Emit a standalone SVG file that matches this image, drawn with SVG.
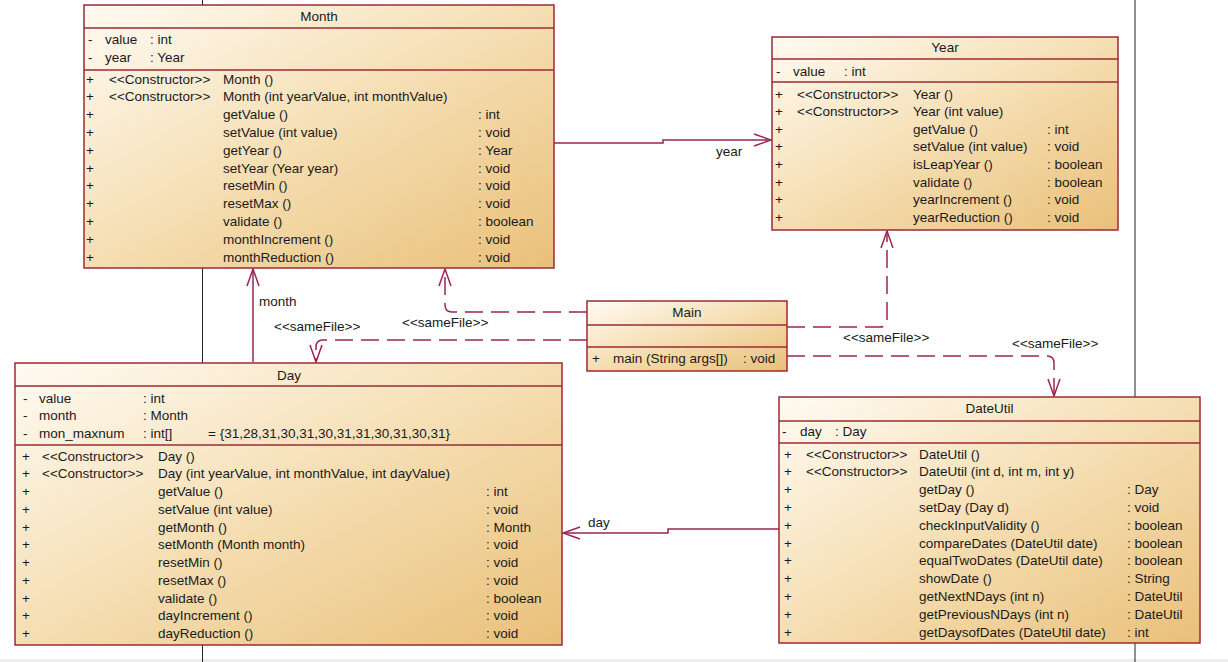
<svg xmlns="http://www.w3.org/2000/svg" width="1228" height="662" viewBox="0 0 1228 662">
<style>
.box{stroke:#9e2a36;stroke-width:1.5}
.div{stroke:#9e2a36;stroke-width:1.5}
text{font-family:"Liberation Sans",Arial,sans-serif;font-size:13.5px;fill:#1a1a1a}
.t{text-anchor:middle}
.c{fill:none;stroke:#9c2456;stroke-width:1.5}
.d{fill:none;stroke:#9c2456;stroke-width:1.5;stroke-dasharray:18 8}
.bg{stroke:#222;stroke-width:1}
</style>
<defs>
<linearGradient id="g" x1="0" y1="0" x2="1" y2="1">
<stop offset="0" stop-color="#fffbf3"/>
<stop offset="0.5" stop-color="#f5deb2"/>
<stop offset="1" stop-color="#e9c079"/>
</linearGradient>
<marker id="a" markerUnits="userSpaceOnUse" viewBox="-19 -8 21 16" refX="0" refY="0" markerWidth="21" markerHeight="16" orient="auto">
<path d="M -17 -6 L 0 0 L -17 6" fill="none" stroke="#9c2456" stroke-width="1.5"/>
</marker>
</defs>
<rect x="0" y="0" width="1228" height="662" fill="#ffffff"/>
<rect x="0" y="659" width="1228" height="3" fill="#eeeeee"/>
<line class="bg" x1="202.5" y1="0" x2="202.5" y2="662"/>
<line class="bg" x1="1135" y1="0" x2="1135" y2="662"/>

<g id="connectors">
<path class="c" d="M 554 143 L 663 143 L 663 140 L 771 140" marker-end="url(#a)"/>
<path class="c" d="M 253 362 L 253 269" marker-end="url(#a)"/>
<path class="c" d="M 779 529 L 668 529 L 668 533 L 563 533" marker-end="url(#a)"/>
<path class="d" d="M 587 312 L 452 312 Q 445 312 445 305 L 445 269" marker-end="url(#a)"/>
<path class="d" d="M 587 340 L 323 340 Q 316 340 316 347 L 316 362" marker-end="url(#a)"/>
<path class="d" d="M 787 327 L 880 327 Q 887 327 887 320 L 887 231" marker-end="url(#a)"/>
<path class="d" d="M 787 356 L 1047 356 Q 1054 356 1054 363 L 1054 396" marker-end="url(#a)"/>
<text x="716" y="155.5">year</text>
<text x="259" y="306">month</text>
<text x="588" y="527">day</text>
<text x="274" y="331">&lt;&lt;sameFile&gt;&gt;</text>
<text x="402" y="326.5">&lt;&lt;sameFile&gt;&gt;</text>
<text x="843" y="341.5">&lt;&lt;sameFile&gt;&gt;</text>
<text x="1012" y="347.5">&lt;&lt;sameFile&gt;&gt;</text>
</g>

<g id="Month">
<rect class="box" x="84" y="5" width="470" height="263" fill="url(#g)"/>
<line class="div" x1="84" y1="28" x2="554" y2="28"/>
<line class="div" x1="84" y1="70" x2="554" y2="70"/>
<text class="t" x="319" y="20.5">Month</text>
<text x="88" y="43.5">-</text><text x="105" y="43.5">value</text><text x="150" y="43.5">: int</text>
<text x="88" y="61.5">-</text><text x="105" y="61.5">year</text><text x="150" y="61.5">: Year</text>
<text x="86" y="83.5">+</text><text x="109" y="83.5">&lt;&lt;Constructor&gt;&gt;</text><text x="223" y="83.5">Month ()</text>
<text x="86" y="101.3">+</text><text x="109" y="101.3">&lt;&lt;Constructor&gt;&gt;</text><text x="223" y="101.3">Month (int yearValue, int monthValue)</text>
<text x="86" y="119.1">+</text><text x="223" y="119.1">getValue ()</text><text x="478" y="119.1">: int</text>
<text x="86" y="136.9">+</text><text x="223" y="136.9">setValue (int value)</text><text x="478" y="136.9">: void</text>
<text x="86" y="154.7">+</text><text x="223" y="154.7">getYear ()</text><text x="478" y="154.7">: Year</text>
<text x="86" y="172.5">+</text><text x="223" y="172.5">setYear (Year year)</text><text x="478" y="172.5">: void</text>
<text x="86" y="190.3">+</text><text x="223" y="190.3">resetMin ()</text><text x="478" y="190.3">: void</text>
<text x="86" y="208.1">+</text><text x="223" y="208.1">resetMax ()</text><text x="478" y="208.1">: void</text>
<text x="86" y="225.9">+</text><text x="223" y="225.9">validate ()</text><text x="478" y="225.9">: boolean</text>
<text x="86" y="243.7">+</text><text x="223" y="243.7">monthIncrement ()</text><text x="478" y="243.7">: void</text>
<text x="86" y="261.5">+</text><text x="223" y="261.5">monthReduction ()</text><text x="478" y="261.5">: void</text>
</g>

<g id="Year">
<rect class="box" x="772" y="37" width="346" height="193" fill="url(#g)"/>
<line class="div" x1="772" y1="59" x2="1118" y2="59"/>
<line class="div" x1="772" y1="82" x2="1118" y2="82"/>
<text class="t" x="945" y="51.5">Year</text>
<text x="776" y="75.5">-</text><text x="793" y="75.5">value</text><text x="844" y="75.5">: int</text>
<text x="775" y="98.5">+</text><text x="797" y="98.5">&lt;&lt;Constructor&gt;&gt;</text><text x="913" y="98.5">Year ()</text>
<text x="775" y="116.1">+</text><text x="797" y="116.1">&lt;&lt;Constructor&gt;&gt;</text><text x="913" y="116.1">Year (int value)</text>
<text x="775" y="133.7">+</text><text x="913" y="133.7">getValue ()</text><text x="1047" y="133.7">: int</text>
<text x="775" y="151.3">+</text><text x="913" y="151.3">setValue (int value)</text><text x="1047" y="151.3">: void</text>
<text x="775" y="168.9">+</text><text x="913" y="168.9">isLeapYear ()</text><text x="1047" y="168.9">: boolean</text>
<text x="775" y="186.5">+</text><text x="913" y="186.5">validate ()</text><text x="1047" y="186.5">: boolean</text>
<text x="775" y="204.1">+</text><text x="913" y="204.1">yearIncrement ()</text><text x="1047" y="204.1">: void</text>
<text x="775" y="221.7">+</text><text x="913" y="221.7">yearReduction ()</text><text x="1047" y="221.7">: void</text>
</g>

<g id="Main">
<rect class="box" x="587" y="301" width="200" height="70" fill="url(#g)"/>
<line class="div" x1="587" y1="325" x2="787" y2="325"/>
<line class="div" x1="587" y1="347" x2="787" y2="347"/>
<text class="t" x="687" y="316.5">Main</text>
<text x="592" y="362.5">+</text><text x="613" y="362.5">main (String args[])</text><text x="743" y="362.5">: void</text>
</g>

<g id="Day">
<rect class="box" x="15" y="363" width="547" height="282" fill="url(#g)"/>
<line class="div" x1="15" y1="386" x2="562" y2="386"/>
<line class="div" x1="15" y1="445" x2="562" y2="445"/>
<text class="t" x="289" y="379.5">Day</text>
<text x="23" y="402.5">-</text><text x="39" y="402.5">value</text><text x="143" y="402.5">: int</text>
<text x="23" y="420">-</text><text x="39" y="420">month</text><text x="143" y="420">: Month</text>
<text x="23" y="437.5">-</text><text x="39" y="437.5">mon_maxnum</text><text x="143" y="437.5">: int[]</text><text x="208" y="437.5">= {31,28,31,30,31,30,31,31,30,31,30,31}</text>
<text x="22" y="460.5">+</text><text x="42" y="460.5">&lt;&lt;Constructor&gt;&gt;</text><text x="158" y="460.5">Day ()</text>
<text x="22" y="478.2">+</text><text x="42" y="478.2">&lt;&lt;Constructor&gt;&gt;</text><text x="158" y="478.2">Day (int yearValue, int monthValue, int dayValue)</text>
<text x="22" y="496">+</text><text x="158" y="496">getValue ()</text><text x="486" y="496">: int</text>
<text x="22" y="513.7">+</text><text x="158" y="513.7">setValue (int value)</text><text x="486" y="513.7">: void</text>
<text x="22" y="531.5">+</text><text x="158" y="531.5">getMonth ()</text><text x="486" y="531.5">: Month</text>
<text x="22" y="549.2">+</text><text x="158" y="549.2">setMonth (Month month)</text><text x="486" y="549.2">: void</text>
<text x="22" y="567">+</text><text x="158" y="567">resetMin ()</text><text x="486" y="567">: void</text>
<text x="22" y="584.7">+</text><text x="158" y="584.7">resetMax ()</text><text x="486" y="584.7">: void</text>
<text x="22" y="602.5">+</text><text x="158" y="602.5">validate ()</text><text x="486" y="602.5">: boolean</text>
<text x="22" y="620.2">+</text><text x="158" y="620.2">dayIncrement ()</text><text x="486" y="620.2">: void</text>
<text x="22" y="638">+</text><text x="158" y="638">dayReduction ()</text><text x="486" y="638">: void</text>
</g>

<g id="DateUtil">
<rect class="box" x="779" y="397" width="421" height="246" fill="url(#g)"/>
<line class="div" x1="779" y1="421" x2="1200" y2="421"/>
<line class="div" x1="779" y1="443" x2="1200" y2="443"/>
<text class="t" x="989.5" y="413">DateUtil</text>
<text x="782" y="435.5">-</text><text x="800" y="435.5">day</text><text x="835" y="435.5">: Day</text>
<text x="784" y="458.5">+</text><text x="806" y="458.5">&lt;&lt;Constructor&gt;&gt;</text><text x="919" y="458.5">DateUtil ()</text>
<text x="784" y="476.3">+</text><text x="806" y="476.3">&lt;&lt;Constructor&gt;&gt;</text><text x="919" y="476.3">DateUtil (int d, int m, int y)</text>
<text x="784" y="494.1">+</text><text x="919" y="494.1">getDay ()</text><text x="1127" y="494.1">: Day</text>
<text x="784" y="511.9">+</text><text x="919" y="511.9">setDay (Day d)</text><text x="1127" y="511.9">: void</text>
<text x="784" y="529.7">+</text><text x="919" y="529.7">checkInputValidity ()</text><text x="1127" y="529.7">: boolean</text>
<text x="784" y="547.5">+</text><text x="919" y="547.5">compareDates (DateUtil date)</text><text x="1127" y="547.5">: boolean</text>
<text x="784" y="565.3">+</text><text x="919" y="565.3">equalTwoDates (DateUtil date)</text><text x="1127" y="565.3">: boolean</text>
<text x="784" y="583.1">+</text><text x="919" y="583.1">showDate ()</text><text x="1127" y="583.1">: String</text>
<text x="784" y="600.9">+</text><text x="919" y="600.9">getNextNDays (int n)</text><text x="1127" y="600.9">: DateUtil</text>
<text x="784" y="618.7">+</text><text x="919" y="618.7">getPreviousNDays (int n)</text><text x="1127" y="618.7">: DateUtil</text>
<text x="784" y="636.5">+</text><text x="919" y="636.5">getDaysofDates (DateUtil date)</text><text x="1127" y="636.5">: int</text>
</g>
</svg>
